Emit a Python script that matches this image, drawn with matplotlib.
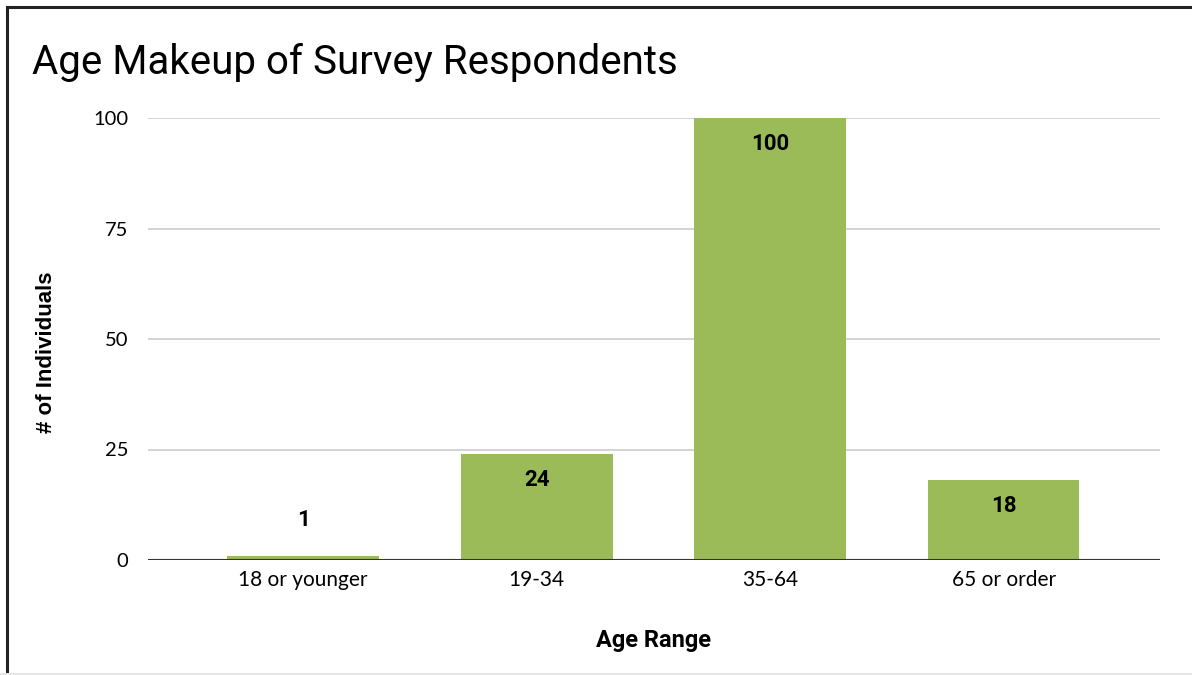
import matplotlib.pyplot as plt
from matplotlib.lines import Line2D

# data
categories = ["18 or younger", "19-34", "35-64", "65 or order"]
counts = [1, 24, 100, 18]
yticks = [0, 25, 50, 75, 100]

bar_color = "#9bbb59"

fig = plt.figure(figsize=(11.92, 6.75), dpi=100)
ax = fig.add_axes([148 / 1192, 1 - 560 / 675, (1160 - 148) / 1192, (560 - 118) / 675])

x = list(range(len(categories)))
bars = ax.bar(x, counts, width=0.65, color=bar_color, zorder=2)

ax.set_xlim(-0.665, 3.67)
ax.set_ylim(0, 100)
ax.set_yticks(yticks)
ax.set_xticks(x)
ax.set_xticklabels(categories, family="Lato", fontsize=15)
ax.set_yticklabels([str(t) for t in yticks], family="Lato", fontsize=14.5)
ax.tick_params(length=0)
ax.tick_params(axis="x", pad=7)
ax.tick_params(axis="y", pad=14)

# grid
for t in yticks[1:]:
    ax.axhline(t, color="#cccccc", lw=1.2, zorder=1)
ax.axhline(0, color="#333333", lw=1.5, zorder=3)
for s in ax.spines.values():
    s.set_visible(False)

# value labels
for xi, v in zip(x, counts):
    if v < 10:
        ax.text(xi, v + 8, str(v), ha="center", va="center", fontsize=16,
                fontweight="bold", family="Roboto", color="black")
    else:
        ax.text(xi, v - 5.8, str(v), ha="center", va="center", fontsize=16,
                fontweight="bold", family="Roboto", color="black")

# titles
fig.text(32 / 1192, 1 - 63 / 675, "Age Makeup of Survey Respondents", fontsize=29,
         family="Roboto", va="center", ha="left")
fig.text(47 / 1192, 1 - 352 / 675, "# of Individuals", rotation=90, fontsize=16,
         fontweight="bold", family="Liberation Sans", va="center", ha="center")
fig.text(654 / 1192, 1 - 641 / 675, "Age Range", fontsize=17, fontweight="bold",
         family="Roboto", va="center", ha="center")

# frame lines around the picture
fig.add_artist(Line2D([7 / 1192, 1], [1 - 7 / 675, 1 - 7 / 675], color="#222222", lw=2.2))
fig.add_artist(Line2D([7 / 1192, 7 / 1192], [0, 1 - 7 / 675], color="#222222", lw=2.2))
fig.add_artist(Line2D([0, 1], [1.5 / 675, 1.5 / 675], color="#e6e6e6", lw=1.5))

fig.savefig("out.png", dpi=100)
